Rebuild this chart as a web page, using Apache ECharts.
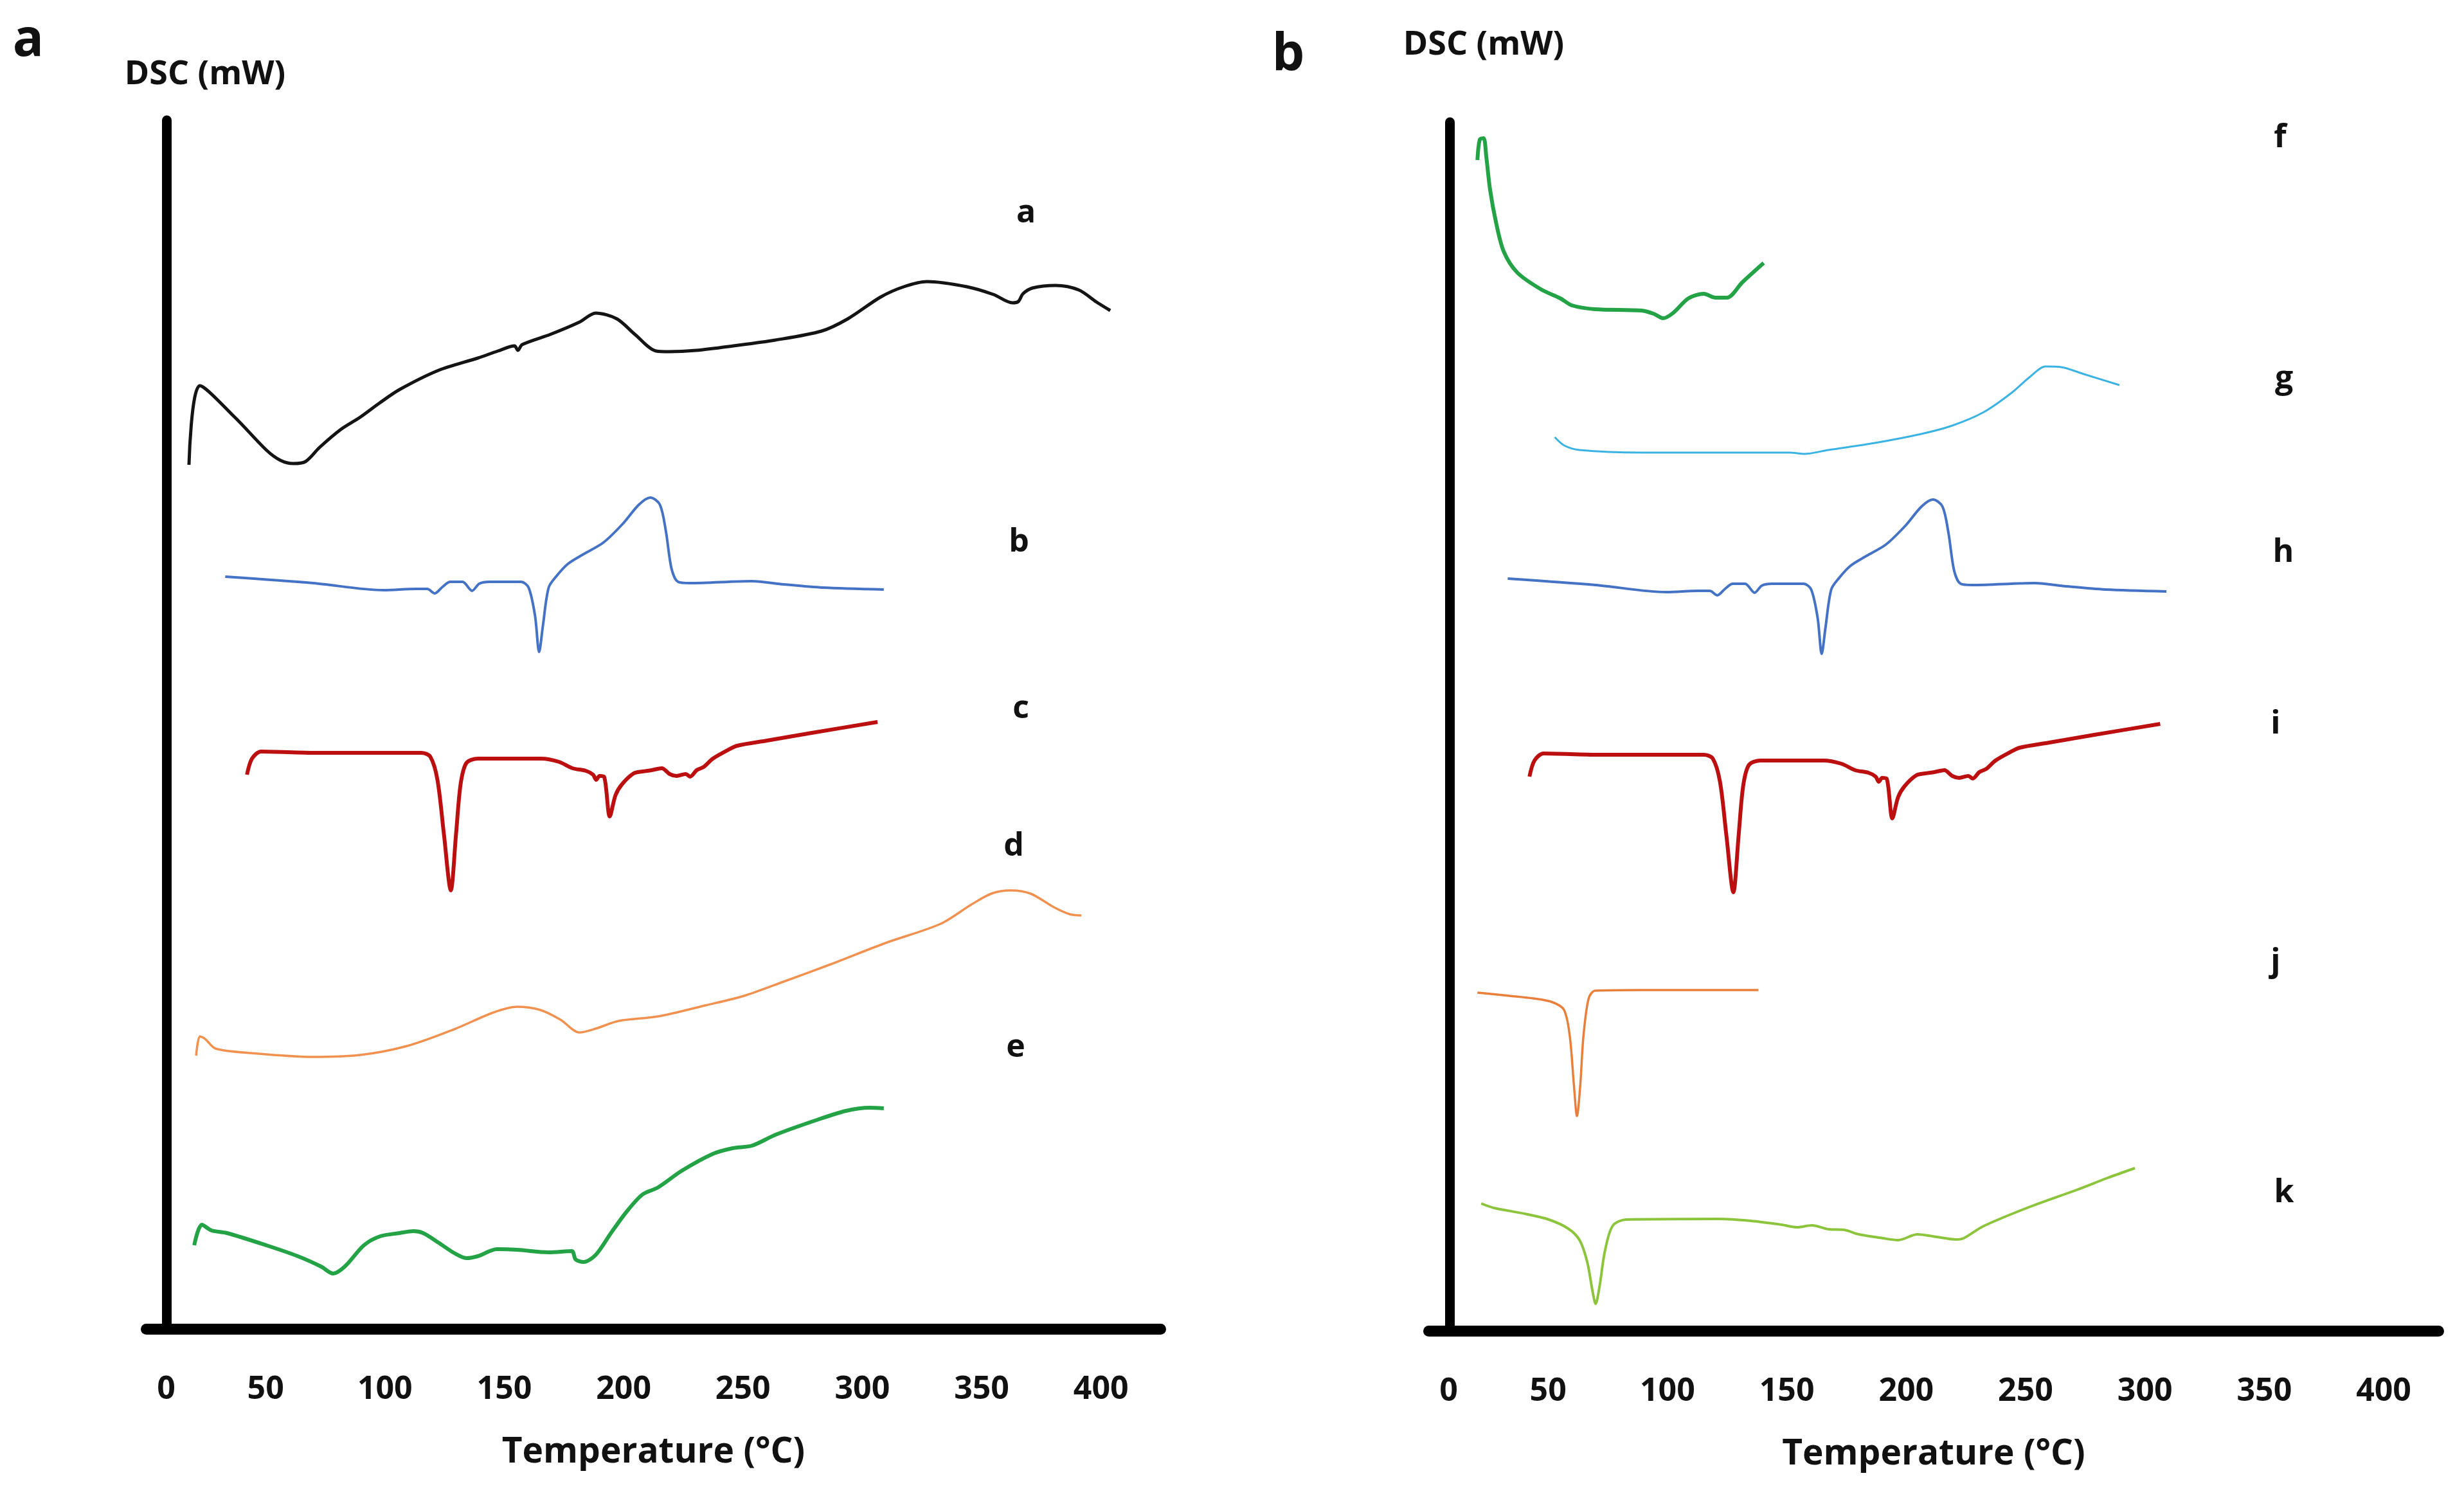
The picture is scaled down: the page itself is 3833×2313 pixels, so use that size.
<!DOCTYPE html>
<html>
<head>
<meta charset="utf-8">
<script src="https://cdn.jsdelivr.net/npm/echarts@6/dist/echarts.min.js"></script>
<style>
html,body{margin:0;padding:0;background:#ffffff;}
#chart{width:3833px;height:2313px;}
</style>
</head>
<body>
<div id="chart"></div>
<script>
// ---------- DATA (temperature °C, relative DSC signal) ----------
const tempTicks = [0, 50, 100, 150, 200, 250, 300, 350, 400];

// Panel a
const curveA = [[17.9,134.4],[22.5,146.7],[37.1,141.8],[50.3,136.7],[56.2,135.1],[61.6,134.6],[66.7,134.9],[72.6,137.1],[81.5,139.9],[89.6,141.8],[97.7,144.0],[106.1,146.1],[122.5,149.1],[138.9,151.0],[147.3,152.1],[154.3,152.9],[155.7,152.2],[157.5,153.1],[169.4,154.7],[181.5,156.6],[188.3,158.0],[197.2,157.1],[204.7,154.7],[213.6,152.1],[219.0,152.0],[230.3,152.2],[246.0,152.9],[263.5,153.8],[282.9,155.2],[293.9,157.1],[307.7,160.5],[317.4,162.1],[327.1,162.9],[343.8,162.1],[354.9,160.9],[362.9,159.6],[365.4,159.8],[367.3,161.0],[371.3,161.9],[381.0,162.3],[390.7,161.6],[398.2,159.7],[403.9,158.4]];
const curveB = [[33.1,117.0],[69.9,116.0],[99.6,114.9],[112.8,115.1],[117.7,115.1],[120.9,114.4],[124.1,115.4],[127.4,116.2],[132.5,116.2],[136.5,114.8],[139.5,115.9],[143.8,116.2],[157.0,116.2],[160.2,115.3],[162.9,110.9],[164.6,105.3],[166.2,109.4],[168.6,115.3],[171.9,117.1],[176.7,119.0],[183.2,120.5],[191.5,122.3],[199.6,125.2],[206.4,128.2],[211.2,129.3],[215.2,128.2],[217.7,124.1],[220.1,118.2],[222.8,116.2],[227.6,116.0],[253.8,116.3],[267.0,115.8],[283.4,115.3],[309.0,115.0]];
const curveC = [[42.2,86.2],[44.3,88.7],[48.1,89.8],[70.8,89.6],[115.2,89.6],[119.0,89.0],[122.0,85.4],[124.7,77.0],[127.6,68.2],[129.8,77.0],[131.7,84.7],[134.1,88.0],[138.9,88.7],[165.4,88.7],[172.9,88.2],[178.6,87.2],[184.2,86.8],[187.2,86.2],[188.5,85.4],[189.9,86.0],[191.8,85.9],[194.2,79.7],[196.6,83.0],[199.3,84.7],[204.2,86.4],[207.9,86.7],[211.7,86.9],[216.0,87.2],[219.3,86.3],[222.2,86.0],[226.0,86.3],[227.9,85.9],[230.6,86.9],[233.5,87.4],[237.4,88.7],[243.0,89.9],[247.6,90.7],[260.0,91.5],[278.8,92.7],[306.4,94.4]];
const curveD = [[20.9,42.5],[22.5,45.5],[24.7,45.1],[29.0,43.6],[43.8,42.9],[69.9,42.3],[89.6,42.6],[109.3,44.0],[129.0,46.6],[145.4,49.2],[155.4,50.1],[165.1,49.6],[173.5,48.1],[181.5,46.1],[188.3,46.7],[198.0,47.9],[214.4,48.6],[234.1,50.3],[250.5,51.8],[267.0,54.0],[286.7,56.7],[309.6,60.0],[332.8,63.0],[345.7,66.0],[354.1,67.7],[362.1,68.2],[370.5,67.7],[380.2,65.6],[386.9,64.5],[391.8,64.3]];
const curveE = [[20.1,13.0],[23.3,16.2],[27.4,15.3],[33.8,14.9],[50.3,13.0],[63.5,11.3],[73.2,9.7],[78.3,8.6],[83.2,9.7],[91.2,13.0],[98.0,14.4],[106.1,14.9],[112.0,15.2],[116.0,14.9],[122.5,13.4],[129.0,11.8],[134.1,11.0],[138.9,11.3],[147.0,12.4],[155.4,12.3],[168.6,11.9],[178.3,12.1],[179.9,10.8],[183.2,10.4],[188.3,11.5],[194.7,14.9],[201.2,18.2],[207.9,20.9],[214.4,22.0],[224.4,24.6],[237.3,27.2],[245.7,28.1],[253.8,28.5],[263.7,30.2],[280.2,32.4],[293.1,33.9],[303.1,34.4],[309.0,34.3]];

// Panel b
const curveF = [[20.4,182.1],[21.4,185.3],[23.0,185.5],[24.1,182.7],[25.7,177.5],[28.2,172.4],[31.4,167.9],[37.1,164.6],[47.0,162.0],[55.1,160.6],[60.0,159.5],[69.7,158.9],[89.1,158.7],[94.2,158.2],[98.2,157.5],[102.3,158.3],[108.8,160.6],[115.2,161.3],[120.1,160.7],[124.9,160.7],[131.4,163.1],[140.3,166.1]];
const curveG = [[52.8,139.0],[56.8,137.7],[63.2,137.0],[89.1,136.6],[121.7,136.6],[151.1,136.6],[157.5,136.4],[167.3,137.0],[186.9,138.1],[206.3,139.5],[219.3,140.8],[232.5,142.9],[243.8,145.8],[251.9,148.4],[258.3,150.0],[264.8,149.9],[274.5,148.8],[289.3,147.1]];
const curveH = curveB;   // same trace re-plotted in panel b
const curveI = curveC;   // same trace re-plotted in panel b
const curveJ = [[20.4,52.6],[33.8,52.1],[43.8,51.7],[51.9,51.1],[56.7,49.9],[59.1,45.8],[60.8,38.3],[62.1,33.4],[63.5,38.3],[64.8,45.8],[67.0,51.7],[69.7,52.9],[89.1,53.0],[138.1,53.0]];
const curveK = [[22.0,19.8],[27.4,19.1],[40.3,18.2],[50.3,17.3],[58.4,15.9],[63.2,14.1],[66.4,10.7],[68.6,6.2],[69.9,4.2],[71.6,7.0],[73.7,12.2],[77.0,16.3],[82.6,17.3],[121.7,17.4],[134.9,17.1],[147.8,16.5],[154.3,16.1],[160.5,16.4],[167.3,15.8],[174.0,15.7],[180.2,15.0],[190.2,14.4],[196.6,14.1],[204.7,15.0],[212.8,14.6],[220.9,14.2],[224.1,14.4],[232.5,16.3],[251.9,19.3],[271.3,21.9],[284.5,23.8],[295.8,25.3]];

const namesA = ['a', 'b', 'c', 'd', 'e'];
const namesB = ['f', 'g', 'h', 'i', 'j', 'k'];

// ---------- CHART ----------
const FONT = '"Open Sans", "Noto Sans", sans-serif';
const chart = echarts.init(document.getElementById('chart'), null, {renderer: 'canvas', width: 3833, height: 2313});

const labelStyle = {fontSize: 50, fontWeight: 'bold', fontFamily: FONT, color: '#111'};
function xAxisCfg(gi, max) {
  return {
    type: 'value', gridIndex: gi, min: 0, max: max, interval: 50,
    axisLine: {onZero: false, lineStyle: {color: '#000', width: 17, cap: 'round'}},
    axisTick: {show: false}, splitLine: {show: false},
    axisLabel: Object.assign({margin: 70,
      formatter: v => !tempTicks.includes(v) ? '' : (v === 0 ? '{z|0}' : String(v)),
      rich: {z: Object.assign({padding: [0, 0, 0, 62]}, labelStyle)}}, labelStyle),
    name: 'Temperature (°C)', nameLocation: 'middle', nameGap: 165,
    nameTextStyle: {fontSize: 55, fontWeight: 'bold', fontFamily: FONT, color: '#111'}
  };
}
function yAxisCfg(gi, off) {
  return {
    type: 'value', gridIndex: gi, min: 0, max: 188, offset: off,
    axisLine: {show: true, onZero: false, lineStyle: {color: '#000', width: 15, cap: 'round'}},
    axisTick: {show: false}, splitLine: {show: false}, axisLabel: {show: false}
  };
}
function line(name, data, gi, color, width) {
  return {
    name: name, type: 'line', xAxisIndex: gi, yAxisIndex: gi, data: data,
    showSymbol: false, smooth: 0.3, silent: true,
    lineStyle: {color: color, width: width}
  };
}
function txt(t, x, y, size) {
  return {type: 'text', x: x, y: y, silent: true,
    style: {text: t, font: 'bold ' + size + 'px ' + FONT, fill: '#111', align: 'center', verticalAlign: 'middle'}};
}

const option = {
  backgroundColor: '#ffffff',
  animation: false,
  grid: [
    {left: 227.5, top: 187, width: 1578, height: 1880},
    {left: 2222.5, top: 190, width: 1571, height: 1880}
  ],
  xAxis: [xAxisCfg(0, 425), xAxisCfg(1, 423)],
  yAxis: [yAxisCfg(0, -32), yAxisCfg(1, -32.5)],
  series: [
    line(namesA[0], curveA, 0, '#141414', 5),
    line(namesA[1], curveB, 0, '#4472C4', 4),
    line(namesA[2], curveC, 0, '#BC1010', 6),
    line(namesA[3], curveD, 0, '#F0914F', 3.5),
    line(namesA[4], curveE, 0, '#23A345', 6),
    line(namesB[0], curveF, 1, '#23A345', 6),
    line(namesB[1], curveG, 1, '#3AB3E3', 3),
    line(namesB[2], curveH, 1, '#4472C4', 4),
    line(namesB[3], curveI, 1, '#BC1010', 6),
    line(namesB[4], curveJ, 1, '#E8803C', 3.5),
    line(namesB[5], curveK, 1, '#8CC43C', 4)
  ],
  graphic: [
    txt('a', 44, 64, 80),
    txt('b', 2004, 86, 80),
    txt('DSC (mW)', 319, 116, 52),
    txt('DSC (mW)', 2308, 70, 52),
    txt(namesA[0], 1596, 332, 50),
    txt(namesA[1], 1585, 844, 50),
    txt(namesA[2], 1588, 1103, 50),
    txt(namesA[3], 1577, 1317, 50),
    txt(namesA[4], 1580, 1630, 50),
    txt(namesB[0], 3547, 215, 50),
    txt(namesB[1], 3553, 590, 50),
    txt(namesB[2], 3552, 860, 50),
    txt(namesB[3], 3540, 1127, 50),
    txt(namesB[4], 3540, 1497, 50),
    txt(namesB[5], 3553, 1856, 50)
  ]
};
chart.setOption(option);
</script>
</body>
</html>
